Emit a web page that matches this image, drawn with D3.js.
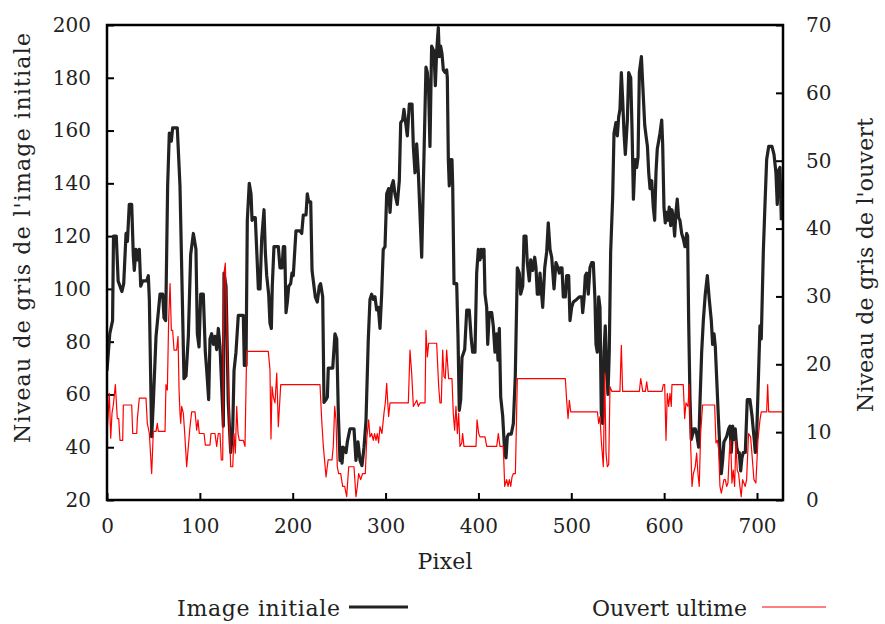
<!DOCTYPE html>
<html>
<head>
<meta charset="utf-8">
<script src="https://cdn.jsdelivr.net/npm/d3@7"></script>
<style>
  html, body { margin: 0; padding: 0; background: #fff; }
  svg { display: block; }
  text { font-family: "DejaVu Serif", "Liberation Serif", serif; fill: #222; }
</style>
</head>
<body>
<svg id="chart" width="885" height="624"></svg>
<script>
// ---- data (pixel index, gray level) ----
const imageInitiale = [[0,69],[3,83],[6,88],[7,120],[10,120],[12,103],[16,99],[18,102],[20.5,121],[22,118],[24,132],[26.6,132],[28.3,113],[29.4,107],[31.2,115],[33,111],[34.8,115],[36.3,101],[38.4,103],[42.7,103],[44.5,105],[45.6,96],[48.1,44],[49.9,57],[52.8,82],[57.1,98],[60,98],[61.4,89],[63.2,88],[65.3,139],[67.1,159],[69.3,156],[70.7,161],[75.7,161],[78.6,139],[82.9,66],[85.1,67],[87.6,82],[90.1,113],[93,121],[95.8,115],[97.3,83],[99.1,78],[100.9,98],[103.7,98],[105.9,76],[107.4,69],[109.5,58],[110.9,81],[112.7,83],[114.5,79],[116.3,82],[118.1,77],[119.9,85],[121.7,78],[123.5,63],[125.3,48],[126,106],[128.2,101],[130.6,57],[133.2,38],[135.4,47],[136.8,69],[138.9,76],[141.4,90],[146.8,90],[147.9,71],[149.7,71],[151.1,126],[153.2,140],[155.1,136],[156.2,126],[157.6,127],[159.7,127],[161.2,115],[163,100],[164.8,100],[166.6,119],[169.1,130],[170.5,114],[172,105],[174.1,98],[175.5,87],[177,85],[178,101],[179.8,116],[184.5,116],[186.3,108],[188.5,108],[189.9,116],[191.4,116],[192.8,91],[194.2,95],[195.7,101],[197.8,102],[199.2,106],[200.6,105],[203.5,122],[207.8,122],[209.7,121],[211.4,128],[214.3,128],[215.7,136],[217.2,133],[219.4,133],[220.8,107],[222.9,101],[224.3,97],[226.5,95],[228.6,101],[230,102],[232.3,97],[233.7,57],[235.8,58],[237.3,59],[238.3,70],[243.1,70],[245.5,83],[247.4,81],[249.1,53],[250.9,35],[252,40],[253.1,34],[254.5,40],[257.4,38],[258.8,42],[261.7,47],[266,47],[268.1,35],[270.3,42],[272.5,35],[274.6,33],[276.8,40],[278.9,50],[281.4,81],[283.2,96],[285,98],[286.8,96],[288.6,97],[290.4,92],[292.2,93],[294,85],[295.8,98],[297.5,115],[299.4,116],[301.2,136],[303.3,138],[304.8,129],[306.6,139],[308.3,141],[310.1,136],[312.6,132],[314.8,141],[316.3,163],[318.4,164],[319.8,168],[322,162],[323.4,158],[325.6,170],[328.5,170],[329.9,154],[331.7,144],[333.5,155],[335.3,144],[338.9,112],[341.4,151],[343.5,184],[345,182],[346.4,175],[347.8,154],[349.6,192],[352.1,190],[353.6,177],[355,190],[356.8,199],[357.9,188],[359.3,192],[360.8,189],[362.2,183],[364,182],[365.8,183],[366.5,180],[367.6,149],[368.6,139],[370.1,149],[371.5,149],[372.3,139],[373.7,102],[376.6,102],[378,82],[379.4,54],[380.9,58],[382.3,74],[385.2,77],[387.4,92],[390.1,92],[392.3,81],[393.8,76],[396.3,76],[398.1,106],[399.9,115],[401.7,111],[403.1,115],[404.6,112],[406,115],[407.1,98],[408.9,93],[410,79],[411.7,91],[414.3,91],[416,86],[417.8,76],[419.7,83],[421.1,73],[422.5,85],[424,59],[426.1,52],[428.3,38],[429.7,36],[431.1,44],[432.6,45],[435.4,45],[437.6,49],[439.7,67],[441.9,108],[444,106],[445.5,98],[447.7,101],[449.1,120],[451.2,120],[452.6,110],[454.8,103],[456.3,111],[458.4,107],[460.6,112],[462,108],[463.4,98],[465,98],[466.3,106],[469.2,93],[471.4,108],[473.5,114],[475.2,125],[477.1,115],[478.9,112],[481.4,100],[483.5,110],[485.7,108],[487.1,106],[488.6,108],[490,108],[491.4,97],[493.6,97],[495,105],[497.2,105],[498.6,88],[500.4,93],[502.2,95],[505.8,96],[508.7,97],[511.2,97],[512.3,91],[513.7,96],[515.1,105],[516.6,106],[518.3,98],[520.1,108],[522,110],[523.7,110],[525.5,96],[526.6,79],[528,76],[529.5,97],[530.9,93],[532.3,53],[533.8,49],[535.2,76],[536.6,86],[538.1,69],[539.5,60],[540.9,76],[542.4,114],[544.6,135],[546,159],[548.1,163],[549.6,158],[551,165],[552.4,168],[553.9,182],[555.3,172],[556.8,159],[558.2,151],[560.4,164],[561.8,182],[564,180],[565.4,161],[566.9,134],[568.6,149],[570.4,146],[571.9,150],[573.3,182],[575.5,188],[577,177],[579.1,162],[580.5,158],[582,154],[583.4,144],[584.8,138],[586.6,141],[588.3,131],[589.8,126],[591.2,144],[592.6,153],[594.1,156],[595.5,159],[597.4,164],[598.4,155],[599.8,131],[601.2,125],[602.7,129],[604.1,126],[605.5,131],[607,124],[608.4,130],[609.8,127],[611.3,120],[612.7,129],[614.1,134],[615.6,127],[617,126],[618.9,121],[620.6,119],[622.4,116],[624.3,121],[625.3,120],[626.4,88],[627.8,59],[629.2,43],[630.7,45],[632.1,47],[633.5,47],[635,45],[637.2,40],[638.6,57],[640.4,76],[642.2,88],[644.3,98],[646.5,105],[648.6,96],[650.8,88],[652.2,79],[653.7,83],[655.1,78],[656.6,66],[658.3,52],[660.1,39],[661.6,30],[663,35],[664.4,42],[665.9,43],[667.3,44],[669.5,47],[670.9,48],[672.3,38],[673.8,48],[675.2,43],[676.6,47],[678.1,40],[679.5,38],[680.9,38],[682.4,31],[683.8,36],[685.2,38],[687.4,38],[689.5,58],[692.4,58],[694.6,52],[696.7,44],[698.2,38],[699.6,44],[701,60],[703.2,86],[704.6,81],[706.8,114],[708.6,132],[710.4,149],[712.6,154],[716.1,154],[718.3,151],[720.4,144],[721.8,132],[723.3,145],[724.7,146],[726.2,126]];

const ouvertUltime = [[0.3,10.3],[2.5,15.7],[4,9.1],[5.4,12.8],[6.8,14],[9,17],[11.1,12],[12.6,12],[14,8.8],[16.9,8.8],[17.6,14],[26.6,14],[27.7,9.8],[32,9.8],[32.7,12],[34.8,15],[42,15],[43.4,11.3],[45.6,9.8],[48.1,3.9],[49.9,10.1],[52.8,10.1],[54.2,11.3],[55.3,10.1],[62.5,10.1],[63.5,17],[65,16.2],[66.4,26.5],[67.9,31.9],[69.3,25],[70.7,25],[72.2,22.1],[75,22.1],[76.5,24.1],[77.6,16.2],[78.6,12.8],[79.4,11.3],[80.4,13.8],[82.2,12.8],[83.7,9.8],[85.8,4.9],[87.6,7.9],[89.4,10.8],[91.2,13],[94.8,13],[96.6,10.3],[98,11.8],[99.4,9.8],[104.5,9.8],[105.9,8.1],[110.9,8.1],[112,9.8],[116.3,9.8],[118.1,7.9],[119.9,9.8],[121.7,9.8],[123.1,5.9],[124.6,5.9],[126,33.4],[127.4,34.9],[128.9,26.5],[130.6,16.7],[133.2,4.9],[135.4,4.9],[136.8,9.8],[138.2,6.9],[139.7,13.8],[141.1,9.8],[142.5,8.8],[146.8,8.8],[148.6,7.9],[150.4,21.9],[173.7,21.9],[175.5,19.2],[176.6,9],[177.7,16.7],[179.1,15.2],[180.9,14.3],[182.8,18.7],[184.5,10.8],[187.1,17],[229.4,17],[231.2,11.8],[233,7.9],[235.9,3.4],[238.1,5.9],[242.3,5.9],[243.7,7.9],[245.2,13.8],[246.6,11.8],[248,4.9],[249.5,3.9],[251.7,3.9],[253.8,2],[256,2],[258.1,0.5],[260.3,4.9],[266,4.9],[268.1,0.5],[269.6,2],[271,3.9],[273.2,3],[275.3,3.9],[278.2,3.9],[279.7,9],[281.8,11.8],[283.2,9.3],[285,9.8],[286.8,8.8],[288.2,9.8],[289.7,8.8],[291.1,9.8],[292.5,8.4],[294,10.8],[296.1,9.8],[298.3,12.8],[299.7,14.3],[301.2,17.2],[302.6,13.8],[303.3,12.3],[304.8,14.3],[324.5,14.3],[326.3,22.1],[328.1,18.7],[329.9,13.8],[332,14.3],[333.5,14.7],[335.3,13.8],[337.1,14.3],[342.5,14.3],[343.5,25],[345,21.1],[346.4,23.1],[355,23.1],[357.2,16.7],[358.6,14.3],[360,14.3],[361.5,22.1],[362.9,18.2],[364.3,17.9],[365.8,22.1],[367.9,17.9],[371.5,17.9],[372.9,12.8],[374.4,10.3],[375.8,13.8],[377.3,9.8],[378.7,12.8],[380.1,7.9],[382,8.4],[383,9.8],[384.4,7.9],[397.4,7.9],[398.5,11.8],[400.3,9.8],[401.7,9.3],[407.1,9.3],[408.9,7.9],[419.7,7.9],[421.4,9.8],[423.2,7.9],[426.8,7.9],[428.3,2],[430.4,3],[431.9,2],[433.3,3],[434.8,2],[436.2,3.4],[437.6,3.9],[439.8,3.9],[441.9,17.9],[493.6,17.9],[495,14.7],[496.5,12],[497.9,14.7],[499.4,13],[528.1,13],[529.5,11.3],[530.9,12.3],[532.3,8.8],[534.5,4.9],[536,18.7],[537.4,6.9],[538.8,4.9],[540.3,5.2],[541.7,16.7],[543.8,16],[552.4,16],[553.9,22.8],[555.3,16],[573.3,16],[574.8,17.9],[577,16],[579.8,16],[581.2,17.4],[582.6,16],[597.7,16],[599.1,17],[600.6,17],[602,8.8],[603.4,15.7],[604.9,13.8],[606.3,15.7],[607.7,13.8],[608.4,17],[620.6,17],[622.1,12],[623.5,14.3],[625.7,13.8],[627.1,17],[628.6,7.9],[630,2],[631.5,3.9],[633.5,4.9],[635,6.9],[636.4,3.9],[637.8,2],[639.3,9.8],[641.4,14],[654.4,14],[655.8,8.4],[657.3,8.8],[658.7,7.4],[660.1,2],[661.6,1],[663,2],[664.4,3],[665.9,3],[667.3,2],[668.7,2.5],[670.2,6.9],[671.6,8.8],[673,2.5],[674.4,4.4],[675.9,2],[677.3,8.8],[678.7,4.4],[680.2,3.9],[681.6,2],[683,0.5],[684.5,3],[685.9,2.5],[687.3,2],[688.8,3],[690.9,9.8],[693.1,9.3],[694.5,6.9],[696.7,3],[698.8,2.5],[701,8.8],[703.2,11.8],[704.6,13],[710.4,13],[711.5,17],[712.6,13],[727.8,13]];

const xTicks = [0, 100, 200, 300, 400, 500, 600, 700];
const yLeftTicks = [20, 40, 60, 80, 100, 120, 140, 160, 180, 200];
const yRightTicks = [0, 10, 20, 30, 40, 50, 60, 70];

const labels = {
  x: "Pixel",
  yLeft: "Niveau de gris de l'image initiale",
  yRight: "Niveau de gris de l'ouvert",
  s1: "Image initiale",
  s2: "Ouvert ultime"
};

// ---- layout ----
const L = 107, R = 783, T = 25, B = 500;
const svg = d3.select("#chart");

const x = d3.scaleLinear().domain([0, 728]).range([L, R]);
const yL = d3.scaleLinear().domain([20, 200]).range([B, T]);
const yR = d3.scaleLinear().domain([0, 70]).range([B, T]);

svg.append("defs").append("clipPath").attr("id", "clip")
  .append("rect").attr("x", L).attr("y", T).attr("width", R - L).attr("height", B - T);

const fs = 20;   // tick labels
const fl = 22;   // titles / legend

function styleAxis(g) {
  g.select(".domain").remove();
  g.selectAll(".tick line").attr("stroke", "#000").attr("stroke-width", 2);
  g.selectAll(".tick text").attr("font-family", "DejaVu Serif").attr("font-size", fs).attr("fill", "#222");
}

svg.append("g").attr("transform", `translate(0,${B})`)
  .call(d3.axisBottom(x).tickValues(xTicks).tickSize(-7).tickPadding(19).tickFormat(d3.format("d")))
  .call(styleAxis);

svg.append("g").attr("transform", `translate(${L},0)`)
  .call(d3.axisLeft(yL).tickValues(yLeftTicks).tickSize(-7).tickPadding(16).tickFormat(d3.format("d")))
  .call(styleAxis);

svg.append("g").attr("transform", `translate(${R},0)`)
  .call(d3.axisRight(yR).tickValues(yRightTicks).tickSize(-7).tickPadding(23).tickFormat(d3.format("d")))
  .call(styleAxis);

// ---- series ----
const lineL = d3.line().x(d => x(d[0])).y(d => yL(d[1]));
const lineR = d3.line().x(d => x(d[0])).y(d => yR(d[1]));

const plot = svg.append("g").attr("clip-path", "url(#clip)");
plot.append("path").datum(imageInitiale)
  .attr("d", lineL).attr("fill", "none")
  .attr("stroke", "#222").attr("stroke-width", 3.2).attr("stroke-linejoin", "round");
plot.append("path").datum(ouvertUltime)
  .attr("d", lineR).attr("fill", "none")
  .attr("stroke", "#ff0000").attr("stroke-width", 1.2).attr("stroke-linejoin", "round");

// frame
svg.append("rect").attr("x", L).attr("y", T).attr("width", R - L).attr("height", B - T)
  .attr("fill", "none").attr("stroke", "#000").attr("stroke-width", 2.5);

// ---- axis titles ----
svg.append("text").attr("x", 445).attr("y", 569)
  .attr("text-anchor", "middle").attr("font-size", fl)
  .attr("textLength", 55).attr("lengthAdjust", "spacing").text(labels.x);

svg.append("text").attr("transform", `translate(30,238) rotate(-90)`)
  .attr("text-anchor", "middle").attr("font-size", fl)
  .attr("textLength", 410).attr("lengthAdjust", "spacing").text(labels.yLeft);

svg.append("text").attr("transform", `translate(873,265) rotate(-90)`)
  .attr("text-anchor", "middle").attr("font-size", fl)
  .attr("textLength", 294).attr("lengthAdjust", "spacing").text(labels.yRight);

// ---- legend ----
const legend = [
  { label: labels.s1, color: "#222", width: 3.2, tx: 340, len: 163, x1: 349, x2: 408 },
  { label: labels.s2, color: "#ff0000", width: 1.2, tx: 747, len: 155, x1: 762, x2: 826 }
];
const lg = svg.append("g");
legend.forEach(e => {
  lg.append("text").attr("x", e.tx - e.len).attr("y", 616)
    .attr("font-size", fl).attr("textLength", e.len).attr("lengthAdjust", "spacing").text(e.label);
  lg.append("line").attr("x1", e.x1).attr("x2", e.x2).attr("y1", 607).attr("y2", 607)
    .attr("stroke", e.color).attr("stroke-width", e.width);
});
</script>
</body>
</html>
